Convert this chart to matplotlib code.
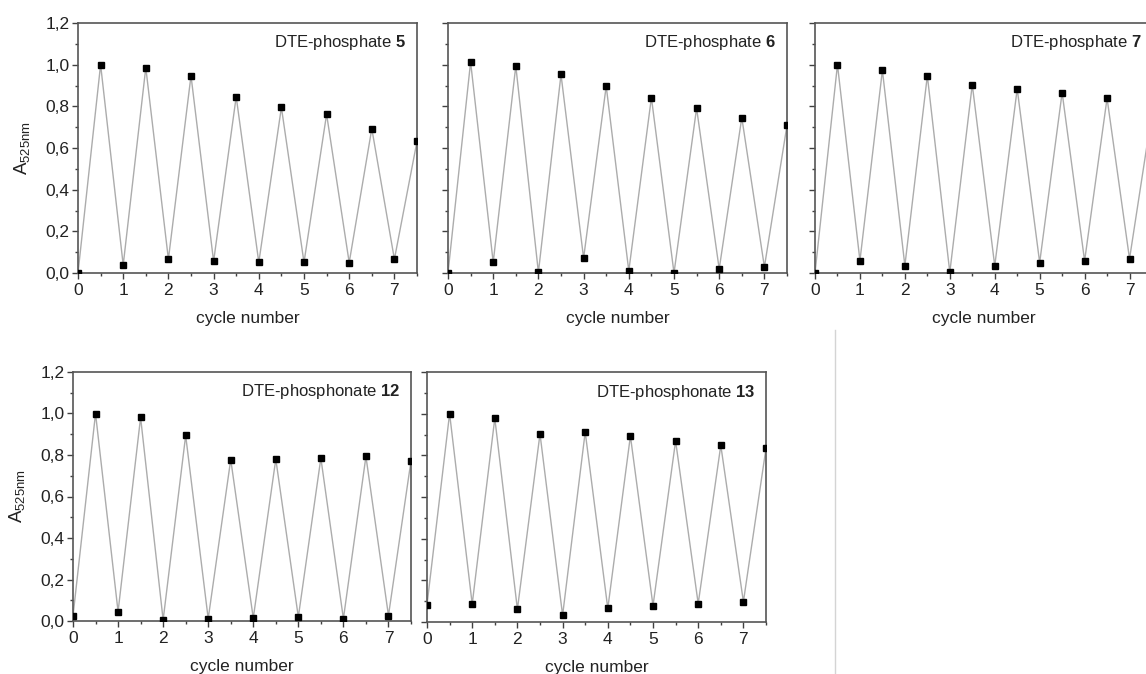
import matplotlib
matplotlib.use("Agg")
import matplotlib.pyplot as plt
from matplotlib.ticker import MultipleLocator, FuncFormatter
from matplotlib.lines import Line2D

plt.rcParams['font.family'] = ['Liberation Sans', 'DejaVu Sans']
plt.rcParams['mathtext.fontset'] = 'custom'
plt.rcParams['mathtext.rm'] = 'Liberation Sans'
plt.rcParams['mathtext.it'] = 'Liberation Sans:italic'
plt.rcParams['mathtext.bf'] = 'Liberation Sans:bold'
plt.rcParams['mathtext.default'] = 'regular'

cycle = [0, 0.5, 1, 1.5, 2, 2.5, 3, 3.5, 4, 4.5, 5, 5.5, 6, 6.5, 7, 7.5]

a_phosphate5 = [0.0, 1.0, 0.038, 0.986, 0.066, 0.947, 0.056, 0.846, 0.051, 0.795,
                0.051, 0.762, 0.050, 0.693, 0.066, 0.632]
a_phosphate6 = [0.0, 1.013, 0.051, 0.994, 0.003, 0.953, 0.071, 0.897, 0.010, 0.842,
                0.0, 0.791, 0.019, 0.746, 0.029, 0.709]
a_phosphate7 = [0.0, 1.0, 0.059, 0.973, 0.035, 0.947, 0.003, 0.904, 0.034, 0.884,
                0.050, 0.866, 0.058, 0.839, 0.068, 0.77]
a_phosphonate12 = [0.024, 1.0, 0.045, 0.981, 0.005, 0.894, 0.011, 0.778, 0.014, 0.780,
                   0.019, 0.785, 0.011, 0.793, 0.026, 0.772]
a_phosphonate13 = [0.083, 1.0, 0.086, 0.978, 0.061, 0.903, 0.032, 0.912, 0.065, 0.893,
                   0.078, 0.869, 0.088, 0.848, 0.097, 0.834]

labels = [("DTE-phosphate ", "5"), ("DTE-phosphate ", "6"), ("DTE-phosphate ", "7"),
          ("DTE-phosphonate ", "12"), ("DTE-phosphonate ", "13")]
series = [a_phosphate5, a_phosphate6, a_phosphate7, a_phosphonate12, a_phosphonate13]

W, H = 1146, 674
fig = plt.figure(figsize=(W / 100, H / 100), dpi=100)

# axes rectangles in pixels: left, top, right, bottom
rects = [(78, 23, 417, 273), (448, 23, 787, 273), (815, 23, 1152, 273),
         (73, 372, 411, 621), (427, 372, 766, 622)]
show_ylabels = [True, False, False, True, False]

comma = FuncFormatter(lambda v, p: ("%.1f" % v).replace('.', ','))

for i, ((l, t, r, b), ys, (lab, num), showy) in enumerate(zip(rects, series, labels, show_ylabels)):
    ax = fig.add_axes([l / W, 1 - b / H, (r - l) / W, (b - t) / H])
    ax.plot(cycle, ys, color='#acacac', lw=1.0, zorder=2)
    ax.plot(cycle, ys, ls='none', marker='s', ms=4.6, color='black', zorder=3)
    ax.set_xlim(0, 7.5)
    ax.set_ylim(0, 1.2)
    ax.xaxis.set_major_locator(MultipleLocator(1))
    ax.xaxis.set_minor_locator(MultipleLocator(0.5))
    ax.yaxis.set_major_locator(MultipleLocator(0.2))
    ax.yaxis.set_minor_locator(MultipleLocator(0.1))
    ax.yaxis.set_major_formatter(comma)
    ax.tick_params(which='major', direction='out', length=4, width=1, color='#404040',
                   labelsize=12.5, labelcolor='#222222')
    ax.tick_params(axis='x', which='major', pad=3.5)
    ax.tick_params(axis='y', which='major', pad=2)
    ax.tick_params(which='minor', direction='out', length=2.5, width=1, color='#404040')
    if not showy:
        ax.tick_params(axis='y', labelleft=False)
    else:
        ax.set_ylabel('A$_{525nm}$', fontsize=13.5, labelpad=10, color='#222222')
    for s in ax.spines.values():
        s.set_color('#555555')
        s.set_linewidth(1.2)
    ax.set_xlabel('cycle number', fontsize=12.5, labelpad=9, color='#222222')
    ax.text(0.968, 0.92, lab + r'$\mathbf{' + num + '}$', transform=ax.transAxes,
            ha='right', va='center', fontsize=12, color='#222222')

fig.add_artist(Line2D([835 / W, 835 / W], [0, 1 - 330 / H], color='#d4d4d4', lw=1))

fig.savefig('out.png', dpi=100)
